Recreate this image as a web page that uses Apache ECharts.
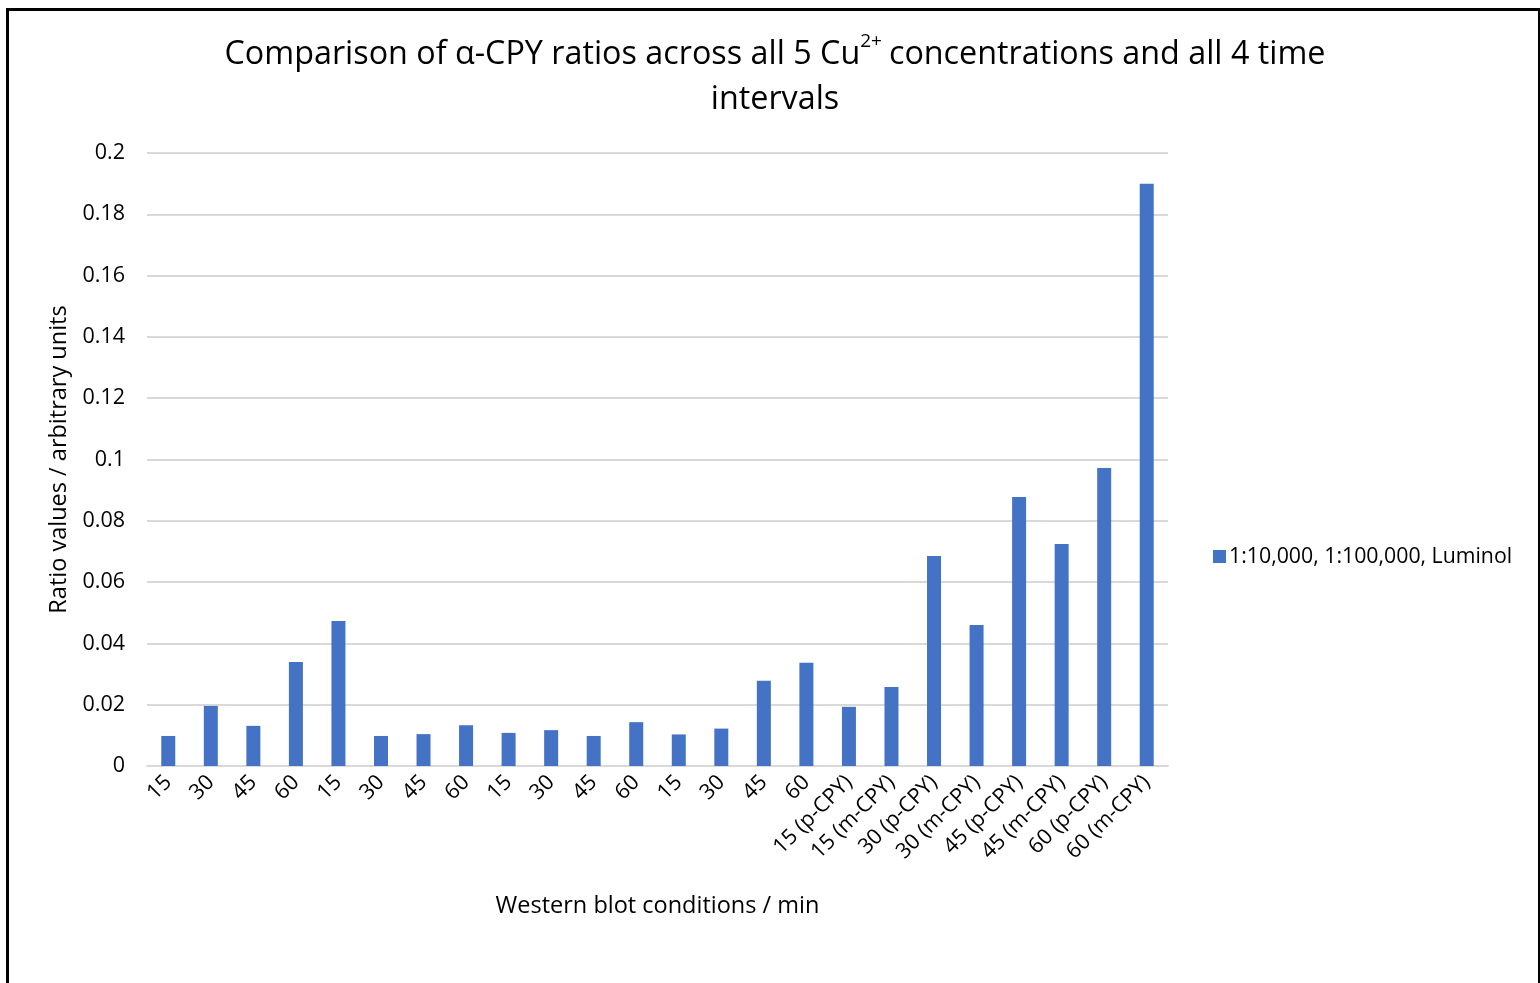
<!DOCTYPE html>
<html>
<head>
<meta charset="utf-8">
<script src="https://cdn.jsdelivr.net/npm/echarts@6/dist/echarts.min.js"></script>
<style>
  html, body { margin: 0; padding: 0; background: #fff; }
  #wrap { position: relative; width: 1540px; height: 983px; overflow: hidden; }
  #frame { position: absolute; left: 6px; top: 8px; width: 1529px; height: 1000px;
           border-left: 3px solid #000; border-top: 3px solid #000; border-right: 2px solid #000; }
  #chart { position: absolute; left: 0; top: 0; width: 1540px; height: 983px; }
</style>
</head>
<body>
<div id="wrap">
  <div id="frame"></div>
  <div id="chart"></div>
</div>
<script>
// Blot conditions (minutes) along the x axis
const categories = ['15', '30', '45', '60', '15', '30', '45', '60', '15', '30', '45', '60',
  '15', '30', '45', '60', '15 (p-CPY)', '15 (m-CPY)', '30 (p-CPY)', '30 (m-CPY)',
  '45 (p-CPY)', '45 (m-CPY)', '60 (p-CPY)', '60 (m-CPY)'];

// α-CPY ratio values
const ratios = [0.0098, 0.0196, 0.0131, 0.0339, 0.0473, 0.0098, 0.0104, 0.0133,
  0.0108, 0.0117, 0.0098, 0.0143, 0.0103, 0.0122, 0.0278, 0.0337,
  0.0193, 0.0258, 0.0685, 0.0460, 0.0878, 0.0724, 0.0972, 0.1900];

const seriesName = '1:10,000, 1:100,000, Luminol';
const yTicks = { min: 0, max: 0.2, interval: 0.02 };

const FONT = '"Open Sans", sans-serif';
const chart = echarts.init(document.getElementById('chart'), null, { renderer: 'canvas' });

chart.setOption({
  backgroundColor: 'transparent',
  animation: false,
  title: {
    text: '{t|Comparison of α-CPY ratios across all 5 Cu}{s|2+}{t|concentrations and all 4 time}\n{t|intervals}',
    left: 770,
    textAlign: 'center',
    top: 27,
    textStyle: {
      rich: {
        t: { fontFamily: FONT, fontSize: 32.3, fontWeight: 'normal', color: '#000', lineHeight: 45 },
        s: { fontFamily: FONT, fontSize: 19, fontWeight: 'normal', color: '#000', verticalAlign: 'top', lineHeight: 45, padding: [0, 7, 16, 0] }
      }
    }
  },
  legend: {
    left: 1208,
    top: 541,
    orient: 'vertical',
    itemWidth: 13,
    itemHeight: 13,
    itemGap: 6,
    icon: 'rect',
    textStyle: { fontFamily: FONT, fontSize: 21.3, color: '#000', padding: [0, 0, 0, -2] },
    data: [seriesName]
  },
  grid: { left: 147, right: 372, top: 153, bottom: 217, containLabel: false },
  xAxis: {
    type: 'category',
    data: categories,
    name: 'Western blot conditions / min',
    nameLocation: 'middle',
    nameGap: 128,
    nameTextStyle: { fontFamily: FONT, fontSize: 23.5, color: '#000' },
    axisLine: { show: true, lineStyle: { color: '#d9d9d9', width: 2 } },
    axisTick: { show: false },
    axisLabel: {
      rotate: 45,
      interval: 0,
      margin: 13,
      fontFamily: FONT,
      fontSize: 21.5,
      color: '#000'
    }
  },
  yAxis: {
    type: 'value',
    min: yTicks.min,
    max: yTicks.max,
    interval: yTicks.interval,
    name: 'Ratio values / arbitrary units',
    nameLocation: 'middle',
    nameGap: 75,
    nameTextStyle: { fontFamily: FONT, fontSize: 23.5, color: '#000' },
    axisLine: { show: false },
    axisTick: { show: false },
    splitLine: { lineStyle: { color: '#d9d9d9', width: 2 } },
    axisLabel: {
      margin: 22,
      fontFamily: FONT,
      fontSize: 21.5,
      color: '#000',
      formatter: v => String(parseFloat(v.toFixed(2)))
    }
  },
  series: [{
    name: seriesName,
    type: 'bar',
    data: ratios,
    barWidth: 14,
    itemStyle: { color: '#4472c4' }
  }]
});
</script>
</body>
</html>
